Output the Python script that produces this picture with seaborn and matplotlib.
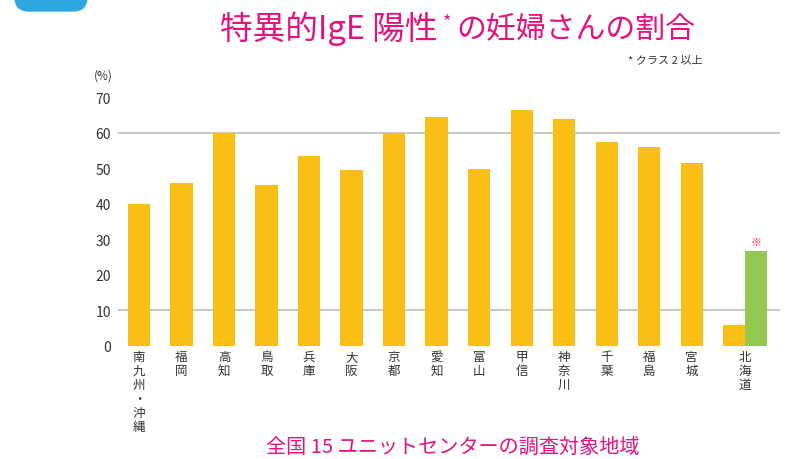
import numpy as np
import pandas as pd
import seaborn as sns
import matplotlib.pyplot as plt
from matplotlib.patches import FancyBboxPatch
from matplotlib.transforms import IdentityTransform

# data
regions = ["南九州・沖縄", "福岡", "高知", "鳥取", "兵庫", "大阪", "京都", "愛知",
           "富山", "甲信", "神奈川", "千葉", "福島", "宮城", "北海道"]
rates = [40.0, 45.8, 59.9, 45.4, 53.5, 49.6, 59.9, 64.4,
         49.8, 66.4, 63.8, 57.4, 56.0, 51.4, 5.9]
hokkaido_extra = [26.7]
yticks = [0, 10, 20, 30, 40, 50, 60, 70]
gridlines = [10, 60]

YELLOW = "#f9bf15"
GREEN = "#93c752"
PINK = "#e2127f"
BAR_W = 0.52

sns.set_theme(style="white")
plt.rcParams['font.family'] = ['Noto Sans CJK JP', 'DejaVu Sans']

fig = plt.figure(figsize=(7.97, 4.6), dpi=100)
ax = fig.add_axes([118 / 797, 1 - 347 / 460, (780 - 118) / 797, (347 - 98) / 460])

for y in gridlines:
    ax.axhline(y, color="#c4c4c4", lw=1.3, zorder=0)

df = pd.DataFrame({"pos": np.arange(len(regions)), "rate": rates})
sns.barplot(data=df, x="pos", y="rate", color=YELLOW, native_scale=True,
            width=BAR_W, linewidth=0, saturation=1, ax=ax, zorder=2)

df2 = pd.DataFrame({"pos": [len(regions) - 1 + BAR_W], "rate": hokkaido_extra})
sns.barplot(data=df2, x="pos", y="rate", color=GREEN, native_scale=True,
            width=BAR_W, linewidth=0, saturation=1, ax=ax, zorder=2)

ax.annotate("※", (df2["pos"][0], hokkaido_extra[0]), xytext=(0, 3),
            textcoords="offset points", ha="center", va="bottom",
            color="#e6232a", fontsize=8)

ax.set_xlim(-0.494, 15.08)
ax.set_ylim(0, 70)
ax.set_yticks(yticks)
ax.set_yticklabels([str(t) for t in yticks], fontsize=10, color="#333333")
ticks = list(range(len(regions) - 1)) + [len(regions) - 1 + BAR_W / 2]
ax.set_xticks(ticks)
ax.set_xticklabels(["\n".join(r) for r in regions], fontsize=9, color="#333333",
                   linespacing=1.1, va="top")
ax.tick_params(axis="both", length=0)
ax.tick_params(axis="x", pad=3)
ax.tick_params(axis="y", pad=5)
ax.set_xlabel("")
ax.set_ylabel("")
sns.despine(ax=ax, left=True, bottom=True)

fig.text(103 / 797, 1 - 76 / 460, "(%)", ha="center", va="center",
         fontsize=8.5, color="#333333")

# title, with the asterisk raised
fig.text(438 / 797, 1 - 29 / 460, "特異的IgE 陽性", ha="right", va="center",
         fontsize=23.5, color=PINK)
fig.text(447 / 797, 1 - 22 / 460, "*", ha="center", va="center",
         fontsize=13, color=PINK)
fig.text(456 / 797, 1 - 29 / 460, "の妊婦さんの割合", ha="left", va="center",
         fontsize=21.5, color=PINK)
fig.text(703 / 797, 1 - 60 / 460, "* クラス 2 以上", ha="right", va="center",
         fontsize=8, color="#333333")
fig.text(453 / 797, 1 - 447 / 460, "全国 15 ユニットセンターの調査対象地域", ha="center",
         va="center", fontsize=14.5, color=PINK)

# blue tab shape at top-left corner (pixel coordinates)
fig.patches.append(FancyBboxPatch((15, 460 - 12), 72, 40,
                                  boxstyle="round,pad=0,rounding_size=14",
                                  transform=IdentityTransform(),
                                  color="#2ea7e0", clip_on=False))

fig.savefig("out.png", dpi=100)
